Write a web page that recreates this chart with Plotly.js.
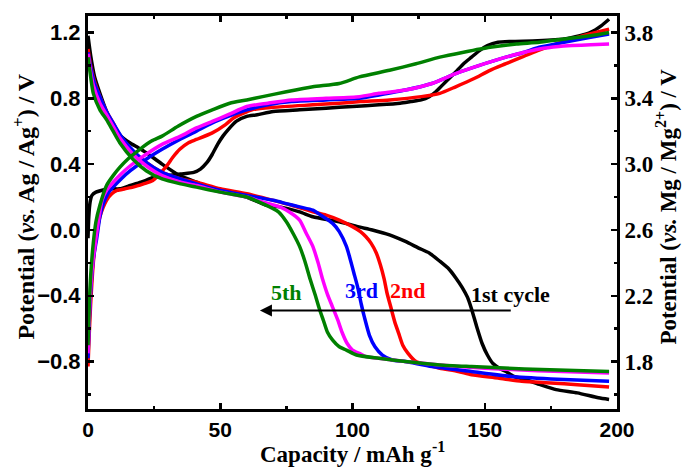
<!DOCTYPE html>
<html>
<head>
<meta charset="utf-8">
<script src="https://cdn.plot.ly/plotly-3.0.1.min.js"></script>
<style>html,body{margin:0;padding:0;background:#fff;}#chart{width:684px;height:467px;}</style>
</head>
<body>
<div id="chart"></div>
<script>
// ---- data (capacity mAh/g, potential V vs Ag/Ag+) ----
var c1dX = [0,1,2.5,4.5,7,9.5,12.5,15.8,19,22,28,34.7,41,47,55,60,67.5,72.5,80,85,95,102,107.5,114,120,125,129,133,136.6,139,141.5,143.5,145,147,149,151,153,155.5,158,161,165.6,171,177,185,193,197];
var c1dY = [1.18,1.06,0.93,0.83,0.72,0.63,0.57,0.53,0.50,0.47,0.40,0.33,0.29,0.25,0.22,0.20,0.15,0.14,0.11,0.08,0.05,0.02,0.0,-0.03,-0.07,-0.11,-0.14,-0.19,-0.24,-0.29,-0.35,-0.41,-0.48,-0.59,-0.69,-0.76,-0.81,-0.84,-0.86,-0.89,-0.91,-0.94,-0.97,-0.99,-1.02,-1.03];
var c1cX = [0,0.3,0.8,1.5,3,5,8,12,16,20,25,30,35,40,42.5,45,47,49,51,53,56,60,64,70,80,90,100,110,118,122,126,129,131.5,134,136.5,139,142,145,148,151,155,160,170,180,186,190,194,197];
var c1cY = [-0.05,0.08,0.17,0.21,0.23,0.24,0.25,0.25,0.27,0.29,0.32,0.33,0.34,0.35,0.37,0.41,0.46,0.52,0.57,0.61,0.66,0.69,0.70,0.72,0.73,0.74,0.75,0.76,0.77,0.78,0.79,0.81,0.84,0.88,0.92,0.96,1.01,1.05,1.09,1.12,1.14,1.145,1.15,1.16,1.18,1.20,1.24,1.28];

var c2dX = [0,1,2.5,4.5,7,9.5,12.5,16,22,28,35,41,50,60,70,77,85,90,95,100,103,105,107,109,110.5,112,113,114.5,116,117.5,119,121,124,128,133,140,145,155,164,175,185,197];
var c2dY = [1.10,1.00,0.90,0.81,0.72,0.65,0.56,0.49,0.41,0.35,0.31,0.29,0.25,0.22,0.18,0.15,0.11,0.09,0.06,0.02,-0.01,-0.04,-0.08,-0.14,-0.21,-0.30,-0.38,-0.47,-0.56,-0.63,-0.70,-0.75,-0.80,-0.82,-0.84,-0.86,-0.88,-0.90,-0.92,-0.93,-0.94,-0.955];
var c2cX = [0,0.5,1,2,3,4.5,7,9,11,14,17,21,24.5,27,29.8,32,34.7,38,41,47,52,55,62,70,85,95,103,114,126,133,139,146,152,158,164,170,177,185,192,197];
var c2cY = [-0.83,-0.62,-0.45,-0.20,-0.05,0.08,0.18,0.22,0.24,0.25,0.26,0.28,0.30,0.34,0.39,0.44,0.49,0.53,0.55,0.59,0.64,0.68,0.73,0.745,0.76,0.77,0.78,0.79,0.81,0.83,0.87,0.92,0.97,1.01,1.05,1.09,1.13,1.17,1.20,1.22];

var c3dX = [0,1,2.5,4.5,7,9.5,12.5,16,22,28,35,41,50,60,70,75,80,85,88,92.5,95,97.7,99,100.5,102,103.3,104.5,106.4,108.5,111.3,115,120,130,145,160,175,197];
var c3dY = [1.08,0.99,0.89,0.81,0.72,0.65,0.57,0.50,0.41,0.35,0.31,0.28,0.24,0.21,0.18,0.16,0.14,0.12,0.09,0.04,-0.01,-0.10,-0.17,-0.26,-0.35,-0.45,-0.53,-0.64,-0.71,-0.76,-0.79,-0.80,-0.83,-0.86,-0.89,-0.905,-0.92];
var c3cX = [0,0.5,1,2,3.3,4.5,5.8,7.5,9.5,12.5,16,22,28,34.7,41,47,53,60,68,77,90,102.6,110,120,130,139,148,158,165,170.6,180,190,197];
var c3cY = [-0.78,-0.55,-0.38,-0.18,-0.05,0.08,0.16,0.22,0.26,0.31,0.36,0.43,0.49,0.55,0.60,0.65,0.69,0.73,0.76,0.78,0.79,0.80,0.82,0.85,0.89,0.95,1.00,1.05,1.08,1.11,1.14,1.17,1.19];

var c4dX = [0,1,2,4.5,7,9.5,12,17,22,28,35,41,50,60,66,72.5,76,80,82.5,85,87,88.7,90.5,92.5,94.5,96,98,100,102.6,105,110,120,133,150,170,197];
var c4dY = [1.07,0.96,0.88,0.77,0.70,0.63,0.56,0.46,0.39,0.33,0.29,0.27,0.23,0.20,0.17,0.14,0.11,0.06,-0.02,-0.10,-0.20,-0.30,-0.39,-0.47,-0.55,-0.62,-0.69,-0.73,-0.75,-0.77,-0.78,-0.80,-0.82,-0.84,-0.855,-0.87];
var c4cX = [0,0.5,1,2,2.6,4,5.3,7,9.5,12.5,16,22,28,35,41,47,53,60,68,77,90,102.6,110,120,130,139,148,158,165,170.6,178,183,190,197];
var c4cY = [-0.75,-0.52,-0.35,-0.17,-0.10,0.06,0.18,0.24,0.29,0.34,0.39,0.46,0.52,0.57,0.62,0.66,0.70,0.75,0.77,0.79,0.80,0.81,0.83,0.85,0.89,0.95,1.00,1.05,1.08,1.10,1.115,1.12,1.125,1.13];

var c5dX = [0,1,2,4.5,7,9.5,12,17,22,28,35,41,50,60,66,72,75,77.5,80,82,84,86,87.5,89,90.5,92.5,95,97.7,101.5,110,120,133,145,165,197];
var c5dY = [1.05,0.93,0.83,0.73,0.67,0.60,0.53,0.43,0.36,0.31,0.28,0.26,0.23,0.20,0.16,0.11,0.05,-0.02,-0.10,-0.19,-0.30,-0.40,-0.48,-0.55,-0.62,-0.67,-0.71,-0.73,-0.76,-0.78,-0.80,-0.82,-0.83,-0.845,-0.86];
var c5cX = [0,0.5,1,2,3,4.5,7,9.5,12,15,19.6,24,28,34,41,47,53.6,60,66,75,85,95,102.6,114,124,133,142,152,162,170.6,180,190,197];
var c5cY = [-0.70,-0.45,-0.28,-0.08,0.05,0.15,0.27,0.33,0.38,0.43,0.49,0.54,0.57,0.63,0.69,0.73,0.77,0.79,0.81,0.84,0.87,0.89,0.93,0.97,1.01,1.05,1.08,1.11,1.13,1.14,1.16,1.18,1.20];

var cycleLabels = ['1st cycle', '2nd', '3rd', '4th', '5th'];
var colors = ['#000000', '#ff0000', '#0000ff', '#ff00ff', '#008000'];
var xTitle = 'Capacity / mAh g<sup>-1</sup>';
var yTitleL = 'Potential (<i>vs.</i> Ag / Ag<sup>+</sup>) / V';
var yTitleR = 'Potential (<i>vs.</i> Mg / Mg<sup>2+</sup>) / V';
var rightOffset = 2.6;

var series = [
  [c1dX, c1dY, c1cX, c1cY],
  [c2dX, c2dY, c2cX, c2cY],
  [c3dX, c3dY, c3cX, c3cY],
  [c4dX, c4dY, c4cX, c4cY],
  [c5dX, c5dY, c5cX, c5cY]
];

var traces = [];
series.forEach(function (s, i) {
  [[s[0], s[1]], [s[2], s[3]]].forEach(function (p) {
    traces.push({
      x: p[0], y: p[1], type: 'scatter', mode: 'lines',
      line: {color: colors[i], width: 3.5, shape: 'spline', smoothing: 0.6},
      name: cycleLabels[i], showlegend: false, hoverinfo: 'skip'
    });
  });
});
// invisible trace to bind right axis
traces.push({x: [0], y: [2.6], yaxis: 'y2', mode: 'markers', marker: {opacity: 0}, showlegend: false, hoverinfo: 'skip'});

var serif = 'Liberation Serif, Times New Roman, serif';
var sans = 'Liberation Sans, Arial, sans-serif';
var yMin = -1.088, yMax = 1.30;

var layout = {
  width: 684, height: 467,
  margin: {l: 88, r: 67, t: 16, b: 58},
  paper_bgcolor: '#fff', plot_bgcolor: '#fff',
  showlegend: false,
  xaxis: {
    range: [0, 200], dtick: 50, tick0: 0,
    ticks: 'inside', ticklen: 6, tickwidth: 2.5, tickcolor: '#000',
    minor: {dtick: 25, ticks: 'inside', ticklen: 3, tickwidth: 2.5, tickcolor: '#000'},
    showline: true, linewidth: 3, linecolor: '#000', mirror: 'ticks',
    showgrid: false, zeroline: false,
    tickfont: {family: sans, size: 21, color: '#000', weight: 'bold'}
  },
  yaxis: {
    range: [yMin, yMax], dtick: 0.4, tick0: 0, tickformat: '.1f',
    ticks: 'inside', ticklen: 6, tickwidth: 2.5, tickcolor: '#000',
    minor: {dtick: 0.2, ticks: 'inside', ticklen: 3, tickwidth: 2.5, tickcolor: '#000'},
    showline: true, linewidth: 3, linecolor: '#000',
    showgrid: false, zeroline: false,
    tickfont: {family: sans, size: 22, color: '#000', weight: 'bold'}
  },
  yaxis2: {
    overlaying: 'y', side: 'right',
    range: [yMin + rightOffset, yMax + rightOffset], dtick: 0.4, tick0: 1.8, tickformat: '.1f',
    ticks: 'inside', ticklen: 6, tickwidth: 2.5, tickcolor: '#000',
    minor: {dtick: 0.2, ticks: 'inside', ticklen: 3, tickwidth: 2.5, tickcolor: '#000'},
    showline: true, linewidth: 3, linecolor: '#000',
    showgrid: false, zeroline: false,
    tickfont: {family: serif, size: 23, color: '#000', weight: 'bold'}
  },
  annotations: [
    {text: xTitle, xref: 'paper', yref: 'paper', x: 0.5, y: 0, yshift: -43, showarrow: false,
     xanchor: 'center', yanchor: 'middle', font: {family: serif, size: 23, color: '#000', weight: 'bold'}},
    {text: yTitleL, xref: 'paper', yref: 'paper', x: 0, xshift: -64, y: 0.515, textangle: -90, showarrow: false,
     xanchor: 'center', yanchor: 'middle', font: {family: serif, size: 24, color: '#000', weight: 'bold'}},
    {text: yTitleR, xref: 'paper', yref: 'paper', x: 1, xshift: 50, y: 0.515, textangle: -90, showarrow: false,
     xanchor: 'center', yanchor: 'middle', font: {family: serif, size: 23, color: '#000', weight: 'bold'}},
    {x: 65, y: -0.49, ax: 160.4, ay: -0.49, xref: 'x', yref: 'y', axref: 'x', ayref: 'y',
     showarrow: true, arrowhead: 2, arrowsize: 1.2, arrowwidth: 2, arrowcolor: '#000', text: ''},
    {text: cycleLabels[4], x: 75, y: -0.38, xref: 'x', yref: 'y', showarrow: false,
     font: {family: serif, size: 22, color: colors[4], weight: 'bold'}},
    {text: cycleLabels[2], x: 103.4, y: -0.37, xref: 'x', yref: 'y', showarrow: false,
     font: {family: serif, size: 22, color: colors[2], weight: 'bold'}},
    {text: cycleLabels[1], x: 120.8, y: -0.37, xref: 'x', yref: 'y', showarrow: false,
     font: {family: serif, size: 22, color: colors[1], weight: 'bold'}},
    {text: cycleLabels[0], x: 159.6, y: -0.39, xref: 'x', yref: 'y', showarrow: false,
     font: {family: serif, size: 22, color: colors[0], weight: 'bold'}}
  ]
};

Plotly.newPlot('chart', traces, layout, {staticPlot: true, displayModeBar: false});
</script>
</body>
</html>
